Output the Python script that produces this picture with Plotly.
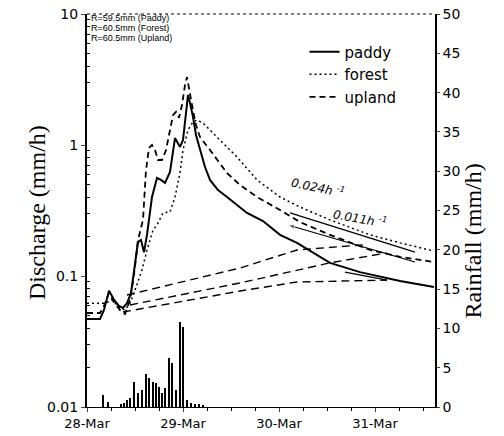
import plotly.graph_objects as go

# time in hours since 28-Mar 00:00 ; discharge in mm/h
paddy_t = [0, 3.25, 4.25, 5.5, 6.75, 8, 9, 10, 11, 12, 12.75, 13.5, 14.25, 15, 15.75, 16.25, 17.5, 18.5, 19.5, 20.75,
           22, 23.25, 24, 24.75, 25.25, 25.75, 26.5, 27.25, 28.25, 29.5, 30.75, 32.75, 35, 37.5, 40, 44, 48.25, 52.5,
           60.75, 68.25, 78.25, 86.75]
paddy_q = [0.047, 0.047, 0.055, 0.077, 0.066, 0.059, 0.057, 0.062, 0.074, 0.128, 0.182, 0.188, 0.152, 0.206, 0.319,
           0.401, 0.56, 0.541, 0.513, 0.622, 1.13, 0.966, 1.09, 1.69, 2.41, 2.09, 1.64, 1.19, 0.916, 0.679, 0.541,
           0.453, 0.401, 0.348, 0.303, 0.263, 0.206, 0.179, 0.126, 0.107, 0.0916, 0.0824]

forest_t = [0, 4.5, 6.25, 8.25, 9.5, 10.75, 12, 13.75, 15, 16.5, 17.5, 19, 20.75, 22, 23.25, 24, 25.25, 26.5, 27.5, 29,
            33.25, 37.5, 42.5, 48.25, 53.25, 60.75, 70.75, 78.25, 86.75]
forest_q = [0.062, 0.062, 0.0656, 0.057, 0.055, 0.062, 0.078, 0.111, 0.158, 0.224, 0.245, 0.303, 0.308, 0.401, 0.611,
            0.916, 1.30, 1.50, 1.55, 1.47, 1.09, 0.81, 0.541, 0.401, 0.336, 0.268, 0.206, 0.179, 0.155]

upland_t = [0, 3.25, 4.25, 5.5, 6.75, 8.25, 9.5, 10.75, 11.75, 12.75, 14, 14.75, 15.5, 16.25, 17, 17.75, 18.75, 19.75,
            20.75, 21.5, 22.25, 23, 23.75, 24.5, 25, 25.5, 26.25, 27.25, 28.25, 30.75, 35, 38.25, 42.5, 48.25, 53.25,
            60.75, 70.75, 78.25, 86.75]
upland_q = [0.0522, 0.0522, 0.059, 0.0741, 0.063, 0.055, 0.0513, 0.0656, 0.102, 0.188, 0.268, 0.644, 0.949, 1.0, 0.916,
            0.768, 0.768, 0.916, 1.30, 1.69, 1.79, 1.61, 2.02, 2.87, 3.30, 2.63, 2.02, 1.42, 1.15, 0.916, 0.611, 0.495,
            0.401, 0.319, 0.258, 0.206, 0.158, 0.140, 0.128]

# baseflow separation lines (dashed)
sep_top_t = [10, 38.25, 52.5, 69]
sep_top_q = [0.0716, 0.115, 0.158, 0.173]
sep_mid_t = [10.75, 38.25, 60.75, 75]
sep_mid_q = [0.0601, 0.0885, 0.126, 0.150]
sep_bot_t = [9, 38.25, 52.5, 75]
sep_bot_q = [0.0531, 0.0768, 0.090, 0.093]

# recession fit segments (solid straight lines), listed right -> left
fit1_t = [82, 50.75]
fit1_q = [0.152, 0.303]
fit2_t = [82, 50.25]
fit2_q = [0.128, 0.245]
fit3_t = [75, 64.5]
fit3_q = [0.093, 0.107]

# hourly rainfall (mm/h)
rain_t = [4, 5.25, 8.5, 9.25, 10, 10.75, 11.75, 12.75, 13.75, 14.75, 15.5, 16.5, 17.25, 18, 18.75, 19.5, 20.5, 21.25,
          22.25, 23.25, 24, 25, 26, 27, 28, 29]
rain_mm = [1.5, 0.6, 0.4, 0.5, 0.9, 1.1, 3.2, 1.8, 2.2, 4.2, 3.7, 3.2, 3.0, 2.5, 1.8, 2.4, 6.2, 5.6, 2.2, 10.8, 10.2,
           0.9, 0.5, 0.4, 0.4, 0.3]

day_ticks = [0, 24, 48, 72]
day_labels = ["28-Mar", "29-Mar", "30-Mar", "31-Mar"]
q_ticks = [0.01, 0.1, 1, 10]
q_labels = ["0.01", "0.1", "1", "10"]

fig = go.Figure()

fig.add_trace(go.Bar(x=rain_t, y=rain_mm, yaxis="y2", width=0.3, marker=dict(color="black", line=dict(width=0)),
                     showlegend=False))

for t, q in [(sep_top_t, sep_top_q), (sep_mid_t, sep_mid_q), (sep_bot_t, sep_bot_q)]:
    fig.add_trace(go.Scatter(x=t, y=q, mode="lines", line=dict(color="black", width=1.4, dash="8px,5px"),
                             showlegend=False))

for t, q, arrow in [(fit1_t, fit1_q, 0), (fit2_t, fit2_q, 7), (fit3_t, fit3_q, 0)]:
    fig.add_trace(go.Scatter(x=t, y=q, mode="lines+markers", line=dict(color="black", width=1.2),
                             marker=dict(symbol="arrow", angleref="previous", size=[0, arrow], color="black"),
                             showlegend=False))

fig.add_trace(go.Scatter(x=paddy_t, y=paddy_q, mode="lines", name="paddy",
                         line=dict(color="black", width=2)))
fig.add_trace(go.Scatter(x=forest_t, y=forest_q, mode="lines", name="forest",
                         line=dict(color="black", width=1.5, dash="2px,3px")))
fig.add_trace(go.Scatter(x=upland_t, y=upland_q, mode="lines", name="upland",
                         line=dict(color="black", width=1.8, dash="6px,4px")))

minor_q = [m * d for d in [0.01, 0.1, 1] for m in range(2, 10)]
minor_t = [h for h in range(6, 87, 6) if h not in day_ticks]

fig.update_layout(
    width=504, height=436,
    margin=dict(l=87, r=69, t=14, b=29, autoexpand=False),
    paper_bgcolor="white", plot_bgcolor="white",
    font=dict(family="DejaVu Sans", color="black"),
    bargap=0,
    xaxis=dict(range=[0, 87], tickvals=day_ticks, ticktext=day_labels, ticks="outside", ticklen=4,
               showline=True, linecolor="black", linewidth=1.2, showgrid=False, zeroline=False, automargin=False,
               tickfont=dict(size=13, family="DejaVu Sans"),
               minor=dict(tickvals=minor_t, ticks="outside", ticklen=3, tickcolor="black", showgrid=False)),
    yaxis=dict(type="log", range=[-2, 1], tickvals=q_ticks, ticktext=q_labels, ticks="outside", ticklen=4,
               showline=True, linecolor="black", linewidth=2, showgrid=False, zeroline=False, automargin=False,
               tickfont=dict(size=14, family="DejaVu Sans"),
               minor=dict(tickvals=minor_q, ticks="inside", ticklen=3, tickcolor="black", showgrid=False)),
    yaxis2=dict(overlaying="y", side="right", range=[0, 50], dtick=5, ticks="outside", ticklen=3,
                showline=True, linecolor="black", linewidth=1.5, showgrid=False, zeroline=False, automargin=False,
                tickfont=dict(size=14, family="DejaVu Sans")),
    legend=dict(x=0.625, y=0.945, xanchor="left", yanchor="top", bgcolor="rgba(0,0,0,0)",
                font=dict(size=15, family="DejaVu Sans"), tracegroupgap=0),
    shapes=[dict(type="line", xref="paper", yref="paper", x0=0, x1=1, y0=1, y1=1,
                 line=dict(color="black", width=1, dash="dot"))],
)

annos = [
    dict(text="R=59.5mm (Paddy)", x=0.006, y=0.99),
    dict(text="R=60.5mm (Forest)", x=0.006, y=0.964),
    dict(text="R=60.5mm (Upland)", x=0.006, y=0.939),
]
for a in annos:
    fig.add_annotation(text=a["text"], x=a["x"], y=a["y"], xref="paper", yref="paper", xanchor="left",
                       yanchor="middle", showarrow=False, font=dict(size=9, family="Liberation Sans Narrow, Liberation Sans"))

fig.add_annotation(text="<i>0.024h <sup>-1</sup></i>", x=0.664, y=0.56, xref="paper", yref="paper",
                   showarrow=False, textangle=12, font=dict(size=12, family="DejaVu Sans"))
fig.add_annotation(text="<i>0.011h <sup>-1</sup></i>", x=0.871, y=0.481, xref="paper", yref="paper",
                   showarrow=False, textangle=10, font=dict(size=12, family="DejaVu Sans"))

fig.add_annotation(text="Discharge (mm/h)", x=-0.187, y=0.496, xref="paper", yref="paper", showarrow=False,
                   textangle=-90, font=dict(size=24, family="Liberation Serif"))
fig.add_annotation(text="Rainfall (mm/h)", x=1.152, y=0.221, xref="paper", yref="paper", showarrow=False,
                   textangle=-90, font=dict(size=24, family="Liberation Serif"))

fig.write_html("out.html", config={"displayModeBar": False},
               post_script="document.body.style.margin='0';document.body.style.padding='0';")
